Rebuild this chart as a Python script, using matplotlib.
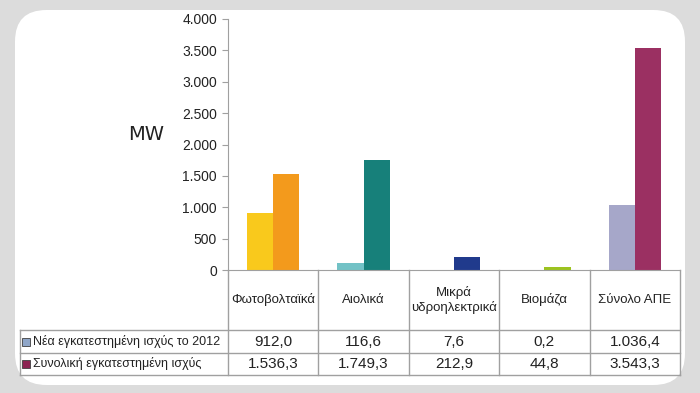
import numpy as np
import matplotlib
matplotlib.use('Agg')
import matplotlib.pyplot as plt
from matplotlib.patches import FancyBboxPatch, Rectangle
from matplotlib.ticker import FuncFormatter
import matplotlib.transforms as mtrans

plt.rcParams['font.family'] = ['Liberation Sans', 'DejaVu Sans']

# Δεδομένα
categories = ['Φωτοβολταϊκά', 'Αιολικά', 'Μικρά\nυδροηλεκτρικά', 'Βιομάζα', 'Σύνολο ΑΠΕ']
new_2012 = [912.0, 116.6, 7.6, 0.2, 1036.4]
total = [1536.3, 1749.3, 212.9, 44.8, 3543.3]
row_labels = ['Νέα εγκατεστημένη ισχύς το 2012', 'Συνολική εγκατεστημένη ισχύς']
new_colors = ['#f9c91c', '#72c2c6', '#2d3f8a', '#9cc31f', '#a6a7c9']
total_colors = ['#f39a1c', '#17807a', '#203a8c', '#9cc31f', '#9b3062']
legend_colors = ['#8fa6c8', '#8c2352']
yticks = [0, 500, 1000, 1500, 2000, 2500, 3000, 3500, 4000]

def fmt(v, dec=1):
    s = f'{v:,.{dec}f}'
    return s.replace(',', 'X').replace('.', ',').replace('X', '.')

W, H = 700, 393
fig = plt.figure(figsize=(W / 100, H / 100), dpi=100)
fig.patch.set_facecolor('#dcdcdc')

# λευκό πλαίσιο με στρογγυλεμένες γωνίες
bg = FancyBboxPatch((15 / W, 8 / H), 670 / W, 375 / H,
                    boxstyle='round,pad=0,rounding_size=0.045',
                    transform=fig.transFigure, facecolor='white',
                    edgecolor='none', mutation_aspect=W / H, zorder=-10)
fig.add_artist(bg)

x0, x1 = 228, 680
y0, y1 = 270, 19
ax = fig.add_axes([x0 / W, (H - y0) / H, (x1 - x0) / W, (y0 - y1) / H])
ax.set_facecolor('none')

x = np.arange(len(categories))
bw = 0.29
ax.bar(x - bw / 2, new_2012, bw, color=new_colors)
ax.bar(x + bw / 2, total, bw, color=total_colors)

ax.set_xlim(-0.5, len(categories) - 0.5)
ax.set_ylim(0, 4000)
ax.set_yticks(yticks)
ax.yaxis.set_major_formatter(FuncFormatter(lambda v, p: fmt(v, 0)))
ax.tick_params(axis='y', labelsize=10, length=4, color='#a0a0a0', pad=4,
               labelcolor='#222222')
ax.set_xticks([])
for s in ['top', 'right']:
    ax.spines[s].set_visible(False)
for s in ['left', 'bottom']:
    ax.spines[s].set_color('#a0a0a0')

fig.text(146 / W, (H - 134) / H, 'MW', fontsize=14, ha='center', va='center',
         family='DejaVu Sans', color='#222222')

# πίνακας κάτω από το γράφημα
lc = '#a0a0a0'
def hline(ya, xa, xb):
    fig.add_artist(plt.Line2D([xa / W, xb / W], [(H - ya) / H, (H - ya) / H],
                              color=lc, lw=1, transform=fig.transFigure))
def vline(xa, ya, yb):
    fig.add_artist(plt.Line2D([xa / W, xa / W], [(H - ya) / H, (H - yb) / H],
                              color=lc, lw=1, transform=fig.transFigure))

r_top, r1, r2, r3 = 270, 330, 353, 375
left = 20
for yy in [r1, r2, r3]:
    hline(yy, left, x1)
vline(left, r1, r3)
col_w = (x1 - x0) / len(categories)
for i in range(len(categories) + 1):
    vline(x0 + i * col_w, r_top, r3)

trans = mtrans.blended_transform_factory(ax.transData, fig.transFigure)
for i, c in enumerate(categories):
    ax.text(i, (H - (r_top + r1) / 2) / H, c, transform=trans, ha='center',
            va='center', fontsize=9.5, clip_on=False, linespacing=1.2,
            color='#222222')
    ax.text(i, (H - (r1 + r2) / 2) / H, fmt(new_2012[i]), transform=trans,
            ha='center', va='center', fontsize=11, clip_on=False, color='#222222')
    ax.text(i, (H - (r2 + r3) / 2) / H, fmt(total[i]), transform=trans,
            ha='center', va='center', fontsize=11, clip_on=False, color='#222222')

for j, (lab, col) in enumerate(zip(row_labels, legend_colors)):
    yc = [(r1 + r2) / 2, (r2 + r3) / 2][j]
    fig.add_artist(Rectangle((22 / W, (H - yc - 4) / H), 8 / W, 8 / H,
                             transform=fig.transFigure, facecolor=col,
                             edgecolor='#404040', lw=0.6))
    fig.text(33 / W, (H - yc) / H, lab, fontsize=9, ha='left', va='center',
             color='#222222')

fig.savefig('out.png', dpi=100, facecolor=fig.get_facecolor())
